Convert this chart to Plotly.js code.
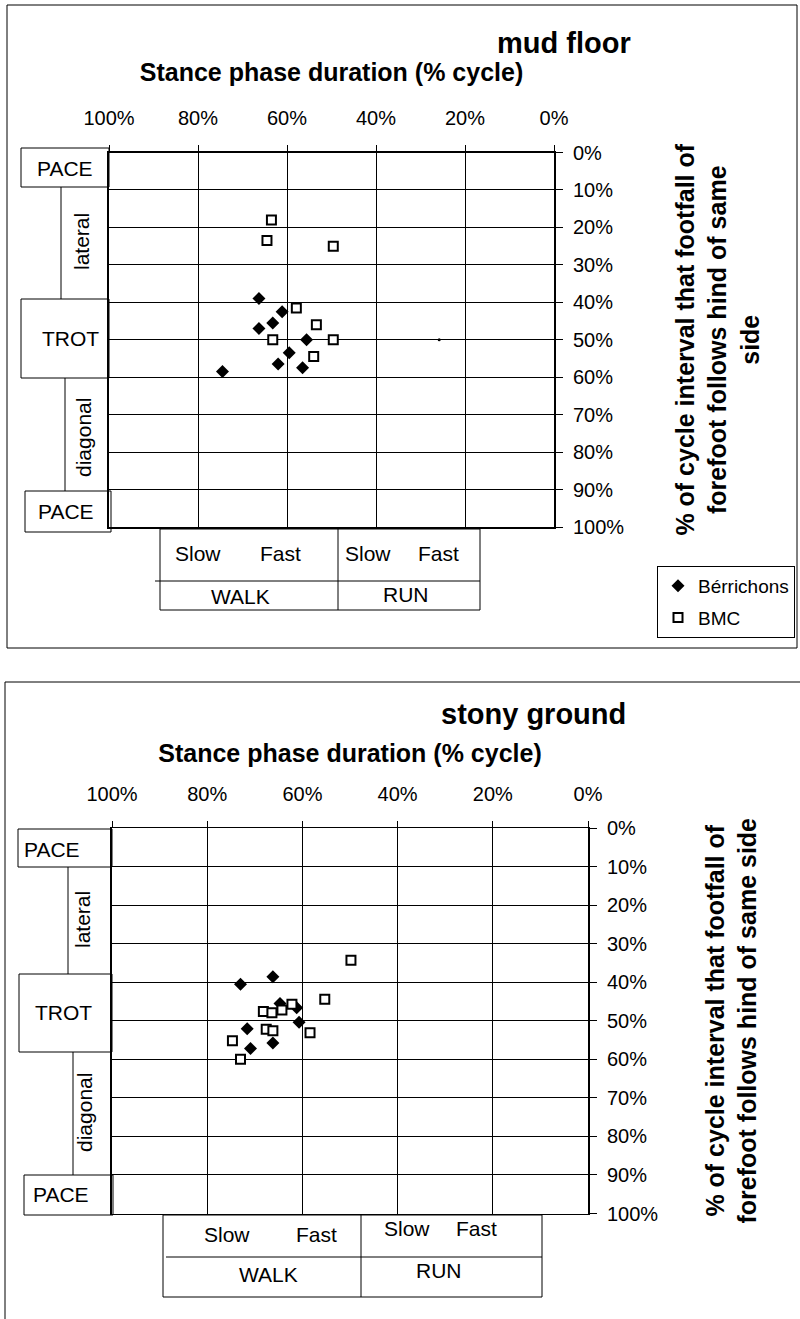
<!DOCTYPE html>
<html>
<head>
<meta charset="utf-8">
<script src="https://cdn.plot.ly/plotly-3.0.1.min.js"></script>
<style>html,body{margin:0;padding:0;background:#fff;}</style>
</head>
<body>
<div id="chart" style="width:800px;height:1319px;"></div>
<script>
// ---------- data ----------
const xTickVals = [100, 80, 60, 40, 20, 0];
const xTickText = ['100%', '80%', '60%', '40%', '20%', '0%'];
const yTickVals = [0, 10, 20, 30, 40, 50, 60, 70, 80, 90, 100];
const yTickText = ['0%', '10%', '20%', '30%', '40%', '50%', '60%', '70%', '80%', '90%', '100%'];

const seriesNames = ['Bérrichons', 'BMC'];
const panelTitles = ['mud floor', 'stony ground'];

// mud floor
const mudBerrX = [66.3, 61.1, 63.2, 66.3, 55.6, 59.5, 62.0, 56.5, 74.5];
const mudBerrY = [39.0, 42.5, 45.5, 47.0, 50.0, 53.5, 56.5, 57.5, 58.5];
const mudBmcX  = [63.5, 64.5, 49.6, 57.9, 53.4, 63.2, 49.6, 54.0];
const mudBmcY  = [18.0, 23.5, 25.0, 41.5, 46.0, 50.0, 50.0, 54.5];
const mudDotX  = [25.8];
const mudDotY  = [50.0];

// stony ground
const stoBerrX = [73.0, 66.2, 64.7, 61.2, 60.7, 71.6, 66.2, 70.9];
const stoBerrY = [40.5, 38.6, 45.5, 46.6, 50.4, 52.1, 55.8, 57.2];
const stoBmcX  = [49.8, 55.3, 62.2, 64.3, 68.2, 66.4, 67.6, 66.2, 58.4, 74.7, 73.0];
const stoBmcY  = [34.3, 44.4, 45.7, 47.2, 47.6, 47.9, 52.2, 52.6, 53.1, 55.2, 60.0];

// ---------- helpers ----------
const W = 800, H = 1319;
const px = x => x / W;
const py = y => 1 - y / H;
const FONT = 'Liberation Sans, Arial, Helvetica, sans-serif';

const berrMarker = {symbol: 'diamond', size: 10, color: '#000', line: {width: 0}};
const bmcMarker  = {symbol: 'square', size: 9, color: '#fff', line: {color: '#000', width: 2}};

const traces = [
  {x: mudBerrX, y: mudBerrY, xaxis: 'x', yaxis: 'y', type: 'scatter', mode: 'markers',
   name: seriesNames[0], marker: berrMarker, legendgroup: 'b', showlegend: true},
  {x: mudBmcX, y: mudBmcY, xaxis: 'x', yaxis: 'y', type: 'scatter', mode: 'markers',
   name: seriesNames[1], marker: bmcMarker, legendgroup: 'm', showlegend: true},
  {x: mudDotX, y: mudDotY, xaxis: 'x', yaxis: 'y', type: 'scatter', mode: 'markers',
   name: '', marker: {symbol: 'circle', size: 3, color: '#000'}, showlegend: false, hoverinfo: 'skip'},
  {x: stoBerrX, y: stoBerrY, xaxis: 'x2', yaxis: 'y2', type: 'scatter', mode: 'markers',
   name: seriesNames[0], marker: berrMarker, legendgroup: 'b', showlegend: false},
  {x: stoBmcX, y: stoBmcY, xaxis: 'x2', yaxis: 'y2', type: 'scatter', mode: 'markers',
   name: seriesNames[1], marker: bmcMarker, legendgroup: 'm', showlegend: false}
];

function xAxis(domain, anchor, titleStandoff) {
  return {
    domain: domain, anchor: anchor, range: [100, 0], side: 'top',
    tickmode: 'array', tickvals: xTickVals, ticktext: xTickText,
    ticks: 'outside', ticklen: 6, tickcolor: '#000', tickwidth: 1,
    ticklabelstandoff: 12,
    showgrid: true, gridcolor: '#000', gridwidth: 1,
    showline: true, linecolor: '#000', linewidth: 1.5, mirror: true, zeroline: false,
    tickfont: {size: 20, family: FONT, color: '#000'},
    title: {text: '<b>Stance phase duration (% cycle)</b>', font: {size: 25, family: FONT, color: '#000'}, standoff: titleStandoff},
    fixedrange: true
  };
}
function yAxis(domain, anchor, titleText, titleStandoff) {
  return {
    domain: domain, anchor: anchor, range: [100, 0], side: 'right',
    tickmode: 'array', tickvals: yTickVals, ticktext: yTickText,
    ticks: 'outside', ticklen: 7, tickcolor: '#000', tickwidth: 1,
    ticklabelstandoff: 6,
    showgrid: true, gridcolor: '#000', gridwidth: 1,
    showline: true, linecolor: '#000', linewidth: 2, mirror: true, zeroline: false,
    tickfont: {size: 20, family: FONT, color: '#000'},
    title: {text: titleText, font: {size: 25, family: FONT, color: '#000'}, standoff: titleStandoff},
    fixedrange: true
  };
}

const yTitle1 = '<b>% of cycle interval that footfall of<br>forefoot follows hind of same<br>side</b>';
const yTitle2 = '<b>% of cycle interval that footfall of<br>forefoot follows hind of same side</b>';

// ---------- decorative boxes ----------
const shapes = [];
const annotations = [];
function rect(x0, y0, x1, y1) {
  shapes.push({type: 'rect', xref: 'paper', yref: 'paper', x0: px(x0), x1: px(x1), y0: py(y1), y1: py(y0),
    line: {color: '#000', width: 1}, fillcolor: 'rgba(0,0,0,0)', layer: 'above'});
}
function line(x0, y0, x1, y1, w) {
  shapes.push({type: 'line', xref: 'paper', yref: 'paper', x0: px(x0), x1: px(x1), y0: py(y0), y1: py(y1),
    line: {color: '#000', width: w || 1}, layer: 'above'});
}
function text(t, x, y, size, angle, bold) {
  annotations.push({text: bold ? '<b>' + t + '</b>' : t, xref: 'paper', yref: 'paper', x: px(x), y: py(y),
    xanchor: 'center', yanchor: 'middle', showarrow: false, textangle: angle || 0,
    font: {size: size, family: FONT, color: '#000'}});
}

// outer frames
line(7, 5, 797, 5); line(7, 5, 7, 648); line(797, 5, 797, 648); line(7, 648, 797, 648);
line(5, 682, 800, 682); line(5, 682, 5, 1319);

// panel titles
text(panelTitles[0], 564, 43, 29, 0, true);
text(panelTitles[1], 533, 714, 29, 0, true);

// panel 1 left gait boxes
rect(21, 148, 109, 187); text('PACE', 65, 168, 21);
line(61, 187, 61, 299); text('lateral', 81, 242, 21, -90);
rect(21, 299, 109, 378); text('TROT', 70, 338, 21);
line(65, 378, 65, 491); text('diagonal', 84, 438, 21, -90);
rect(25, 491, 111, 532); text('PACE', 66, 511, 21);
// panel 1 speed table
rect(160, 529, 480, 610); line(338, 529, 338, 610); line(155, 581, 480, 581);
text('Slow', 198, 553, 21); text('Fast', 280, 553, 21);
text('Slow', 368, 553, 21); text('Fast', 438, 553, 21);
text('WALK', 240, 597, 21); text('RUN', 406, 594, 21);

// panel 2 left gait boxes
rect(18, 829, 112, 867); text('PACE', 52, 849, 21);
line(68, 867, 68, 974); text('lateral', 82, 920, 21, -90);
rect(19, 974, 112, 1052); text('TROT', 63, 1012, 21);
line(73, 1052, 73, 1175); text('diagonal', 84, 1113, 21, -90);
rect(24, 1175, 113, 1215); text('PACE', 61, 1194, 21);
// panel 2 speed table
rect(163, 1215, 542, 1297); line(361, 1215, 361, 1297); line(166, 1257, 542, 1257);
text('Slow', 227, 1234, 21); text('Fast', 316, 1234, 21);
text('Slow', 407, 1228, 21); text('Fast', 477, 1228, 21);
text('WALK', 268, 1274, 21); text('RUN', 439, 1270, 21);

const layout = {
  width: W, height: H,
  margin: {l: 0, r: 0, t: 0, b: 0, pad: 0},
  paper_bgcolor: '#fff', plot_bgcolor: '#fff',
  font: {family: FONT, color: '#000', size: 20},
  showlegend: true,
  legend: {x: px(657), y: py(566), xanchor: 'left', yanchor: 'top',
    bordercolor: '#000', borderwidth: 1, bgcolor: '#fff',
    font: {size: 19, family: FONT, color: '#000'}, itemwidth: 30, tracegroupgap: 4},
  xaxis: xAxis([px(109), px(554)], 'y', 18),
  yaxis: yAxis([py(527), py(152.5)], 'x', yTitle1, 53),
  xaxis2: xAxis([px(112), px(588)], 'y2', 13),
  yaxis2: yAxis([py(1213.5), py(828)], 'x2', yTitle2, 49),
  shapes: shapes,
  annotations: annotations,
  hovermode: false
};

Plotly.newPlot('chart', traces, layout, {staticPlot: true, displayModeBar: false});
</script>
</body>
</html>
